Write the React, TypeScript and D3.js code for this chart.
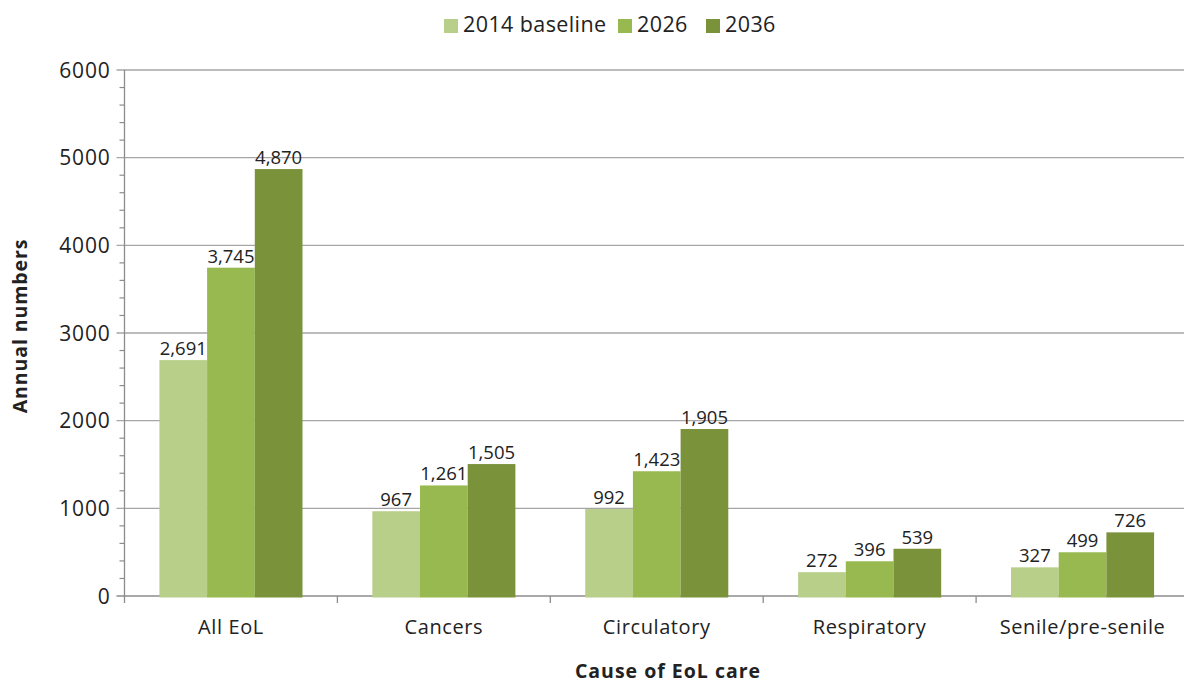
import React from "react";
import * as d3 from "d3";

const categories = ["All EoL", "Cancers", "Circulatory", "Respiratory", "Senile/pre-senile"];
const seriesNames = ["2014 baseline", "2026", "2036"];
const baseline2014 = [2691, 967, 992, 272, 327];
const proj2026 = [3745, 1261, 1423, 396, 499];
const proj2036 = [4870, 1505, 1905, 539, 726];
const yTicks = [0, 1000, 2000, 3000, 4000, 5000, 6000];
const colors = ["#b8cf8a", "#97b94f", "#7a933b"];

const W = 1184, H = 685;
const margin = { left: 124.5, right: -5, top: 70, bottom: 89 };
const FONT = "'Open Sans', Lato, sans-serif";

export default function App() {
  const series = [baseline2014, proj2026, proj2036];
  const x0 = d3.scaleBand<string>().domain(categories).range([margin.left, W - margin.right]).paddingInner(0).paddingOuter(0);
  const inner = x0.bandwidth() * 0.672;
  const x1 = d3.scaleBand<string>().domain(seriesNames).range([0, inner]);
  const y = d3.scaleLinear().domain([0, 6000]).range([H - margin.bottom, margin.top]);
  const minor = d3.range(0, 6001, 200).filter((v) => v % 1000 !== 0);
  const fmt = d3.format(",");
  const gridColor = "#a6a6a6";
  const axisColor = "#8c8c8c";
  const legendX = [444, 618, 706];

  return (
    <div style={{ position: "fixed", left: 0, top: 0, width: W, height: H, overflow: "hidden" }}>
      <svg width={W} height={H} style={{ display: "block", fontFamily: FONT }}>
        <rect width={W} height={H} fill="#fff" />
        {yTicks.map((t) => (
          <g key={t}>
            <line x1={margin.left - 8} x2={W} y1={y(t)} y2={y(t)} stroke={t === 0 ? axisColor : gridColor} strokeWidth={1.3} />
            <text x={margin.left - 14} y={y(t)} dy="0.36em" textAnchor="end" fontSize={21} letterSpacing={0.8} fill="#222">{t}</text>
          </g>
        ))}
        {minor.map((t) => (
          <line key={t} x1={margin.left - 5} x2={margin.left} y1={y(t)} y2={y(t)} stroke={axisColor} strokeWidth={1.2} />
        ))}
        <line x1={margin.left} x2={margin.left} y1={y(6000)} y2={y(0) + 7} stroke={axisColor} strokeWidth={1.3} />
        {categories.map((c, i) => (
          <g key={c}>
            {i > 0 && <line x1={x0(c)!} x2={x0(c)!} y1={y(0)} y2={y(0) + 7} stroke={axisColor} strokeWidth={1.3} />}
            <text x={x0(c)! + x0.bandwidth() / 2} y={y(0) + 38} textAnchor="middle" fontSize={20} letterSpacing={0.6} fill="#222">{c}</text>
          </g>
        ))}
        {categories.map((c, i) => {
          const gx = x0(c)! + (x0.bandwidth() - inner) / 2;
          return (
            <g key={c}>
              {series.map((s, k) => {
                const bx = gx + x1(seriesNames[k])!;
                return (
                  <g key={k}>
                    <rect x={bx} y={y(s[i])} width={x1.bandwidth()} height={y(0) - y(s[i]) + 1.5} fill={colors[k]} />
                    <text x={bx + x1.bandwidth() / 2} y={y(s[i]) - 5} textAnchor="middle" fontSize={18.5} fill="#222">{fmt(s[i])}</text>
                  </g>
                );
              })}
            </g>
          );
        })}
        {seriesNames.map((n, k) => (
          <g key={n}>
            <rect x={legendX[k]} y={19} width={14} height={14} fill={colors[k]} />
            <text x={legendX[k] + 19} y={32} fontSize={21.5} letterSpacing={0.4} fill="#222">{n}</text>
          </g>
        ))}
        <text transform={`translate(27,326) rotate(-90)`} textAnchor="middle" fontSize={19.5} letterSpacing={0.9} fontWeight="bold" fill="#222">Annual numbers</text>
        <text x={668} y={678} textAnchor="middle" fontSize={19.5} letterSpacing={1} fontWeight="bold" fill="#222">Cause of EoL care</text>
      </svg>
    </div>
  );
}
